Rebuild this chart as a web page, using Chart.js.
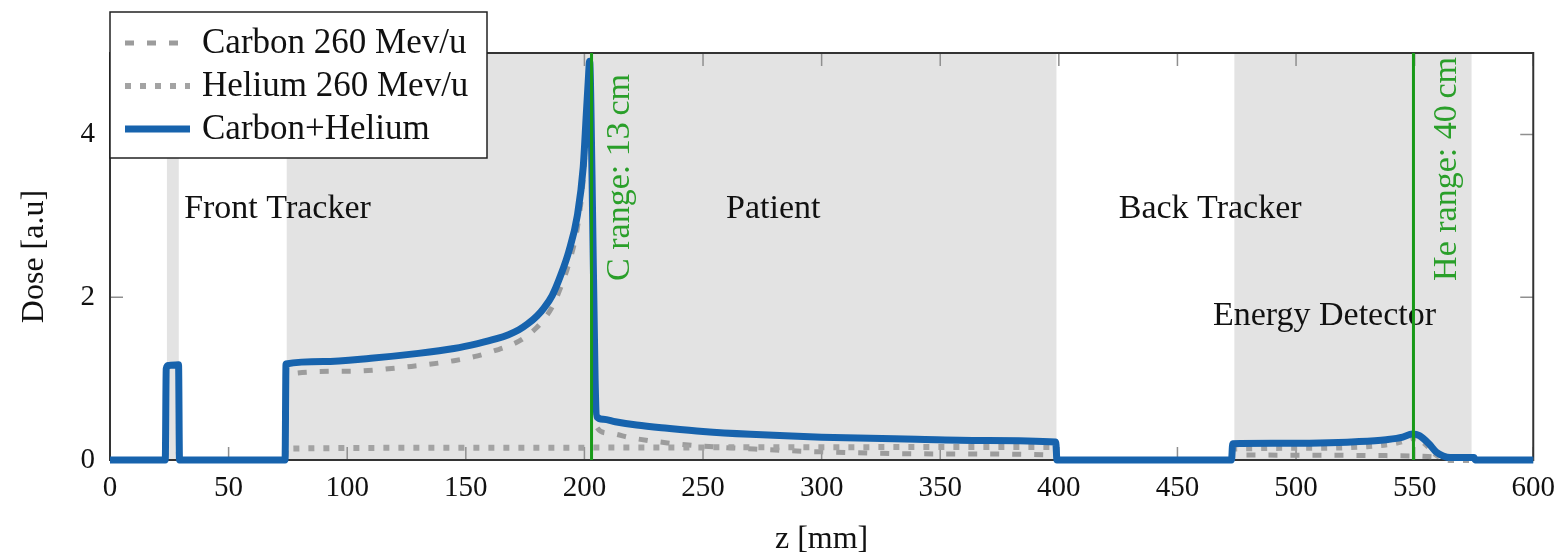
<!DOCTYPE html>
<html>
<head>
<meta charset="utf-8">
<script src="https://cdn.jsdelivr.net/npm/chart.js@4.4.1/dist/chart.umd.min.js"></script>
<style>
  html, body { margin: 0; padding: 0; background: #fff; }
  #doseChart { display: block; }
</style>
</head>
<body>
<canvas id="doseChart" width="1566" height="556"></canvas>
<script>
// Depth [mm] and dose [a.u]
const zCarbon = [0, 23.3, 23.7, 28.9, 29.3, 73.8, 74.2, 100, 127, 145, 155, 163, 168, 172.4, 176, 180, 183, 186.4, 190, 193.4, 197, 199.5, 200.8, 201.6, 202.2, 203.2, 204.5, 205.3, 210, 220, 235, 250, 275, 300, 350, 398.7, 399.2, 472.8, 473.3, 549, 560, 565, 575, 575.6, 600];
const doseCarbon = [0, 0, 1.03, 1.05, 0, 0, 1.05, 1.09, 1.15, 1.22, 1.28, 1.35, 1.40, 1.46, 1.53, 1.63, 1.73, 1.88, 2.12, 2.41, 2.85, 3.45, 4.05, 4.45, 4.7, 3.3, 0.9, 0.4, 0.33, 0.27, 0.21, 0.17, 0.13, 0.1, 0.075, 0.06, 0, 0, 0.06, 0.05, 0.035, 0.03, 0.03, 0, 0];

const zHelium = [0, 23.3, 23.7, 28.9, 29.3, 73.8, 74.2, 150, 250, 398.7, 399.2, 472.8, 473.3, 510, 530, 540, 546, 549, 552, 556, 559, 562, 565, 600];
const doseHelium = [0, 0, 0.11, 0.11, 0, 0, 0.14, 0.15, 0.155, 0.16, 0, 0, 0.14, 0.15, 0.17, 0.2, 0.24, 0.27, 0.25, 0.16, 0.07, 0.02, 0, 0];

const zSum = [0, 23.3, 23.7, 24.5, 28.9, 29.3, 73.8, 74.2, 90, 110, 130, 145, 155, 163, 168, 172.4, 176, 180, 183, 186.4, 190, 193.4, 197, 199.5, 200.8, 201.6, 202.2, 203.2, 204.5, 205.3, 208, 213, 222, 235, 250, 270, 300, 340, 370, 398.7, 399.2, 472.8, 473.3, 490, 510, 525, 538, 545, 549, 552, 556, 559, 562, 565, 575, 575.6, 600];
const doseSum = [0, 0, 1.12, 1.16, 1.17, 0, 0, 1.18, 1.21, 1.25, 1.31, 1.37, 1.43, 1.49, 1.54, 1.60, 1.67, 1.77, 1.87, 2.02, 2.27, 2.56, 3.0, 3.6, 4.25, 4.65, 4.9, 3.5, 1.0, 0.53, 0.5, 0.47, 0.43, 0.39, 0.35, 0.315, 0.28, 0.255, 0.24, 0.22, 0, 0, 0.2, 0.205, 0.21, 0.225, 0.25, 0.28, 0.32, 0.3, 0.2, 0.1, 0.05, 0.03, 0.03, 0, 0];

const xTickValues = [0, 50, 100, 150, 200, 250, 300, 350, 400, 450, 500, 550, 600];
const yTickValues = [0, 2, 4];

// detector / patient slabs (shaded) and range markers, in mm
const shadedRegions = [[24, 29], [74.5, 399], [474, 574]];
const rangeLines = [203, 549.5];
const rangeLabels = ['C range: 13\u2009cm', 'He range: 40\u2009cm'];
const regionLabels = ['Front Tracker', 'Patient', 'Back Tracker', 'Energy Detector'];

// where the labels sit, in data coordinates
const regionLabelPos = [[70.6, 3.08], [279.6, 3.08], [463.8, 3.08], [512, 1.77]];
const rangeLabelPos = [[215, 2.2], [563.5, 2.2]];

const SERIF = '"Liberation Serif", "DejaVu Serif", serif';
const BLUE = '#1763ad';
const GREEN_LINE = '#189a18';
const GREEN_TEXT = '#2a9f2a';

function toPoints(zs, ds) {
    return zs.map((z, i) => ({ x: z, y: ds[i] }));
}

const decorations = {
    id: 'decorations',
    beforeDatasetsDraw(chart) {
        const { ctx, chartArea: a, scales: { x, y } } = chart;
        ctx.save();

        // shaded slabs
        ctx.fillStyle = '#e3e3e3';
        shadedRegions.forEach(([z0, z1]) => {
            const p0 = x.getPixelForValue(z0);
            const p1 = x.getPixelForValue(z1);
            ctx.fillRect(p0, a.top, p1 - p0, a.bottom - a.top);
        });

        // inward tick marks on every side
        ctx.strokeStyle = '#8f8f8f';
        ctx.lineWidth = 1.5;
        ctx.beginPath();
        xTickValues.forEach(v => {
            const px = x.getPixelForValue(v);
            ctx.moveTo(px, a.bottom); ctx.lineTo(px, a.bottom - 13);
            ctx.moveTo(px, a.top); ctx.lineTo(px, a.top + 13);
        });
        yTickValues.forEach(v => {
            const py = y.getPixelForValue(v);
            ctx.moveTo(a.left, py); ctx.lineTo(a.left + 13, py);
            ctx.moveTo(a.right, py); ctx.lineTo(a.right - 13, py);
        });
        ctx.stroke();

        // frame
        ctx.strokeStyle = '#333';
        ctx.lineWidth = 2;
        ctx.strokeRect(a.left, a.top, a.right - a.left, a.bottom - a.top);

        // region names
        ctx.fillStyle = '#111';
        ctx.font = '34px ' + SERIF;
        ctx.textAlign = 'center';
        ctx.textBaseline = 'middle';
        regionLabels.forEach((t, i) => {
            const [zx, dy] = regionLabelPos[i];
            ctx.fillText(t, x.getPixelForValue(zx), y.getPixelForValue(dy));
        });
        ctx.restore();
    },
    afterDatasetsDraw(chart) {
        const { ctx, chartArea: a, scales: { x, y } } = chart;
        ctx.save();

        // range markers
        ctx.strokeStyle = GREEN_LINE;
        ctx.lineWidth = 3;
        ctx.beginPath();
        rangeLines.forEach(z => {
            const px = x.getPixelForValue(z);
            ctx.moveTo(px, a.top);
            ctx.lineTo(px, a.bottom);
        });
        ctx.stroke();

        ctx.fillStyle = GREEN_TEXT;
        ctx.font = '34px ' + SERIF;
        ctx.textAlign = 'left';
        ctx.textBaseline = 'middle';
        rangeLabels.forEach((t, i) => {
            const [zx, dy] = rangeLabelPos[i];
            ctx.save();
            ctx.translate(x.getPixelForValue(zx), y.getPixelForValue(dy));
            ctx.rotate(-Math.PI / 2);
            ctx.fillText(t, 0, 0);
            ctx.restore();
        });

        // legend box, top-left
        const box = { left: 110, top: 12, width: 377, height: 146 };
        ctx.fillStyle = '#fff';
        ctx.fillRect(box.left, box.top, box.width, box.height);
        ctx.strokeStyle = '#222';
        ctx.lineWidth = 1.5;
        ctx.strokeRect(box.left, box.top, box.width, box.height);

        const order = [0, 1, 2];
        ctx.font = '35px ' + SERIF;
        ctx.textAlign = 'left';
        ctx.textBaseline = 'middle';
        order.forEach((di, row) => {
            const ds = chart.data.datasets[di];
            const ry = 43 + row * 43;
            ctx.save();
            ctx.strokeStyle = ds.borderColor;
            ctx.lineWidth = ds.borderWidth;
            ctx.lineCap = 'butt';
            ctx.setLineDash(ds.borderDash || []);
            ctx.beginPath();
            ctx.moveTo(125, ry);
            ctx.lineTo(190, ry);
            ctx.stroke();
            ctx.restore();
            ctx.fillStyle = '#111';
            ctx.fillText(ds.label, 202, ry + 1);
        });
        ctx.restore();
    }
};

new Chart(document.getElementById('doseChart'), {
    type: 'line',
    data: {
        datasets: [
            {
                label: 'Carbon 260 Mev/u',
                data: toPoints(zCarbon, doseCarbon),
                borderColor: '#9c9c9c',
                borderWidth: 5,
                borderDash: [9, 13],
                order: 3
            },
            {
                label: 'Helium 260 Mev/u',
                data: toPoints(zHelium, doseHelium),
                borderColor: '#a3a3a3',
                borderWidth: 6,
                borderDash: [6, 9],
                order: 2
            },
            {
                label: 'Carbon+Helium',
                data: toPoints(zSum, doseSum),
                borderColor: BLUE,
                borderWidth: 7,
                order: 1
            }
        ]
    },
    options: {
        responsive: false,
        animation: false,
        devicePixelRatio: 1,
        layout: { padding: { top: 53, right: 29, left: 0, bottom: 0 } },
        elements: {
            point: { radius: 0 },
            line: { cubicInterpolationMode: 'monotone', fill: false, borderCapStyle: 'butt', borderJoinStyle: 'round' }
        },
        datasets: { line: { clip: 5 } },
        plugins: {
            legend: { display: false },
            tooltip: { enabled: false }
        },
        scales: {
            x: {
                type: 'linear',
                min: 0,
                max: 600,
                grid: { display: false, drawTicks: false },
                border: { display: false },
                afterBuildTicks: s => { s.ticks = xTickValues.map(v => ({ value: v })); },
                afterFit: s => { s.height = 96; },
                ticks: { font: { family: SERIF, size: 29 }, color: '#111', padding: 11, maxRotation: 0 },
                title: { display: true, text: 'z [mm]', font: { family: SERIF, size: 32, lineHeight: 1 }, color: '#111', padding: { top: 0, bottom: 0 } }
            },
            y: {
                min: 0,
                max: 5,
                grid: { display: false, drawTicks: false },
                border: { display: false },
                afterBuildTicks: s => { s.ticks = yTickValues.map(v => ({ value: v })); },
                afterFit: s => { s.width = 110; },
                ticks: { font: { family: SERIF, size: 29 }, color: '#111', padding: 15 },
                title: { display: true, text: 'Dose [a.u]', font: { family: SERIF, size: 32, lineHeight: 1 }, color: '#111', padding: { top: 19, bottom: 0 } }
            }
        }
    },
    plugins: [decorations]
});
</script>
</body>
</html>
